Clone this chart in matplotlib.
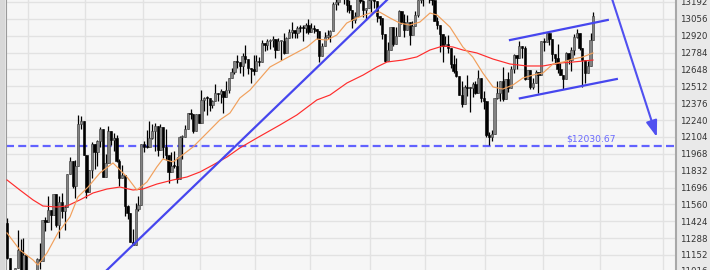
import numpy as np
import pandas as pd
import matplotlib
matplotlib.use("Agg")
from matplotlib import pyplot as plt
from matplotlib.patches import Rectangle

# trading calendar (no weekend gaps on the chart)
first_day = "2011-09-21"
last_day = "2012-07-27"
holidays = ["2011-11-24", "2011-12-26", "2012-01-02", "2012-01-16",
            "2012-02-20", "2012-04-06", "2012-05-28", "2012-07-04", "2012-09-03"]

# daily OHLC, Sep 2011 .. Jul 2012
opens = [
    11408, 11125, 10734, 10771, 11044, 11191, 10939, 11154,
    10913, 10655, 10809, 10940, 11123, 11103, 11433, 11416, 11518, 11478, 11644,
    11397, 11577, 11505, 11542, 11809, 11913, 11707, 11869, 12209, 12231,
    11955, 11658, 11836, 12044, 11983, 12069, 12170, 11781, 11894, 12153, 12079,
    12097, 11906, 11771, 11796, 11548, 11494, 11258, 11231, 11524, 11556,
    12046, 12020, 12019, 12098, 12151, 12196, 11997, 12184, 12021, 11955, 11824,
    11869, 11866, 11766, 12103, 12107, 12169, 12294, 12291, 12151, 12288,
    12218, 12398, 12418, 12416, 12360, 12393, 12462, 12450, 12471, 12422,
    12482, 12578, 12624, 12720, 12709, 12676, 12758, 12735, 12660, 12653,
    12633, 12716, 12705, 12862, 12845, 12878, 12884, 12891, 12801, 12874,
    12878, 12781, 12904, 12950, 12966, 12938, 12985, 12983, 12982, 13005,
    12952, 12980, 12978, 12962, 12759, 12838, 12908, 12922, 12960, 13177, 13194,
    13253, 13233, 13239, 13171, 13125, 13046, 13081, 13241, 13197, 13127, 13146,
    13212, 13264, 13199, 13075, 13060, 12930, 12716, 12806, 12987, 12850,
    12921, 13116, 13033, 12965, 13030, 12928, 13002, 13091, 13205, 13229,
    13214, 13280, 13269, 13207, 13039, 13009, 12933, 12836, 12855, 12821, 12696,
    12633, 12599, 12443, 12370, 12504, 12502, 12497, 12530, 12455, 12580, 12419,
    12393, 12119, 12101, 12127, 12414, 12461, 12554, 12411, 12574, 12497, 12652,
    12767, 12742, 12838, 12825, 12574, 12641, 12503, 12535, 12627, 12602,
    12880, 12871, 12943, 12897, 12773, 12737, 12653, 12605, 12574, 12777,
    12727, 12806, 12909, 12943, 12823, 12722, 12618, 12677, 12888,
]
highs = [
    11452, 11125, 10816, 11045, 11353, 11283, 11290, 11154,
    10952, 10812, 10964, 11130, 11248, 11433, 11462, 11629, 11518, 11644, 11644,
    11625, 11652, 11553, 11809, 11941, 11913, 11920, 12284, 12271, 12231,
    11955, 11838, 12064, 12044, 12076, 12186, 12170, 11964, 12191, 12153, 12133,
    12117, 11924, 11874, 11796, 11558, 11494, 11363, 11569, 11624, 12046,
    12075, 12159, 12233, 12209, 12216, 12196, 12212, 12184, 12164, 11955, 11982,
    11992, 11945, 12112, 12122, 12200, 12294, 12330, 12292, 12288, 12289,
    12479, 12428, 12430, 12416, 12402, 12532, 12462, 12491, 12471, 12558,
    12579, 12661, 12720, 12767, 12709, 12777, 12842, 12735, 12660, 12766,
    12768, 12745, 12886, 12862, 12892, 12891, 12920, 12891, 12905, 12888,
    12945, 12912, 12972, 13028, 12967, 12999, 13010, 13003, 13021, 13058,
    13020, 13006, 12978, 12962, 12862, 12952, 12965, 12963, 13193, 13219, 13256,
    13289, 13265, 13239, 13204, 13125, 13111, 13252, 13290, 13209, 13146, 13228,
    13297, 13264, 13199, 13075, 13060, 12930, 12867, 12987, 12987, 12990,
    13128, 13116, 13098, 13090, 13030, 13039, 13123, 13205, 13260, 13229,
    13338, 13280, 13281, 13207, 13068, 13009, 12933, 12921, 12929, 12821, 12763,
    12738, 12599, 12551, 12520, 12606, 12502, 12546, 12555, 12644, 12580, 12477,
    12393, 12143, 12158, 12414, 12555, 12555, 12665, 12575, 12628, 12674, 12770,
    12767, 12880, 12838, 12839, 12641, 12641, 12582, 12640, 12627, 12880,
    12901, 12943, 12943, 12897, 12773, 12852, 12703, 12605, 12790, 12777,
    12833, 12932, 12972, 12943, 12823, 12722, 12714, 12939, 13115,
]
lows = [
    11122, 10597, 10640, 10722, 11044, 10936, 10939, 10876,
    10654, 10404, 10700, 10932, 11040, 11103, 11347, 11416, 11355, 11478, 11378,
    11288, 11451, 11353, 11542, 11808, 11693, 11613, 11869, 12170, 11955,
    11611, 11658, 11773, 11848, 11873, 12020, 11780, 11781, 11894, 12039, 11989,
    11901, 11705, 11776, 11470, 11444, 11257, 11231, 11231, 11508, 11556,
    11982, 12013, 12019, 12087, 11987, 11952, 11997, 11935, 11919, 11735, 11824,
    11857, 11735, 11766, 11925, 12100, 12169, 12249, 12137, 12151, 12217,
    12218, 12314, 12283, 12311, 12338, 12393, 12390, 12379, 12299, 12422,
    12460, 12578, 12608, 12659, 12621, 12599, 12697, 12611, 12535, 12601,
    12633, 12679, 12705, 12794, 12808, 12814, 12827, 12740, 12801, 12726,
    12772, 12780, 12904, 12903, 12902, 12902, 12948, 12880, 12942, 12935,
    12952, 12942, 12891, 12711, 12759, 12838, 12895, 12870, 12960, 13129, 13169,
    13220, 13179, 13112, 13105, 12986, 13021, 13081, 13187, 13074, 13045, 13146,
    13108, 13145, 13027, 13005, 12896, 12710, 12716, 12806, 12837, 12850,
    12921, 13017, 12908, 12965, 12843, 12928, 13002, 13071, 13181, 13158,
    13214, 13180, 13171, 13035, 12978, 12790, 12710, 12836, 12779, 12656, 12622,
    12587, 12438, 12344, 12370, 12430, 12302, 12423, 12447, 12455, 12387, 12327,
    12107, 12035, 12072, 12127, 12413, 12392, 12397, 12411, 12466, 12497, 12620,
    12653, 12742, 12740, 12566, 12574, 12493, 12487, 12535, 12458, 12602,
    12796, 12871, 12847, 12720, 12694, 12623, 12600, 12492, 12574, 12689,
    12636, 12764, 12902, 12806, 12508, 12539, 12618, 12677, 12888,
]
closes = [
    11125, 10734, 10771, 11044, 11191, 10939, 11154, 10913,
    10655, 10809, 10940, 11123, 11103, 11433, 11416, 11518, 11478, 11644, 11397,
    11577, 11505, 11542, 11809, 11913, 11707, 11869, 12209, 12231, 11955,
    11658, 11836, 12044, 11983, 12069, 12170, 11781, 11894, 12153, 12079, 12097,
    11906, 11771, 11796, 11548, 11494, 11258, 11231, 11524, 11556, 12046,
    12020, 12019, 12098, 12151, 12196, 11997, 12184, 12021, 11955, 11824, 11869,
    11866, 11766, 12103, 12107, 12169, 12294, 12291, 12151, 12288, 12218,
    12398, 12418, 12416, 12360, 12393, 12462, 12450, 12471, 12422, 12482,
    12578, 12624, 12720, 12709, 12676, 12758, 12735, 12660, 12653, 12633,
    12716, 12705, 12862, 12845, 12878, 12884, 12891, 12801, 12874, 12878,
    12781, 12904, 12950, 12966, 12938, 12985, 12983, 12982, 13005, 12952,
    12980, 12978, 12962, 12759, 12838, 12908, 12922, 12960, 13177, 13194, 13253,
    13233, 13239, 13171, 13125, 13046, 13081, 13241, 13197, 13127, 13146, 13212,
    13264, 13199, 13075, 13060, 12930, 12716, 12806, 12987, 12850, 12921,
    13116, 13033, 12965, 13030, 12928, 13002, 13091, 13205, 13229, 13214,
    13280, 13269, 13207, 13039, 13009, 12933, 12836, 12855, 12821, 12696, 12633,
    12599, 12443, 12370, 12504, 12502, 12497, 12530, 12455, 12580, 12419, 12393,
    12119, 12101, 12127, 12414, 12461, 12554, 12411, 12574, 12497, 12652, 12767,
    12742, 12838, 12825, 12574, 12641, 12503, 12535, 12627, 12602, 12880,
    12871, 12943, 12897, 12773, 12737, 12653, 12605, 12574, 12777, 12727,
    12806, 12909, 12943, 12823, 12722, 12618, 12677, 12888, 13076,
]

# moving averages (bar index, level)
ma_fast_idx = [0, 4.7, 9.5, 11.3, 14.6, 18.6, 23, 25.9, 29.6, 33.9, 38.7, 43.8,
               47.4, 51.1, 54.7, 56.9, 60.6, 63.1, 67.9, 73, 77.7, 81.4, 85,
               88.7, 96, 102, 109.5, 113, 116.8, 120.4, 124, 127.7, 132.5, 136,
               139.8, 143.4, 147, 150.7, 154.4, 157, 161.7, 166.4, 170, 173.7,
               177.4, 181, 184.7, 188.3, 192, 195.6, 199.3, 203, 206.6, 210.2, 213.9]
ma_fast = [11330, 11192, 11112, 11071, 11168, 11330, 11459, 11620, 11700, 11813,
           11894, 11781, 11676, 11741, 11862, 11926, 11902, 11942, 12023, 12136,
           12241, 12297, 12418, 12482, 12668, 12740, 12829, 12893, 12885, 12926,
           13022, 13063, 13103, 13111, 13063, 13022, 13006, 13030, 13103, 13087,
           12990, 12829, 12749, 12619, 12507, 12490, 12523, 12579, 12603, 12619,
           12692, 12708, 12732, 12749, 12781]
ma_slow_idx = [0, 4.7, 9.5, 13.1, 18.2, 21.9, 26.6, 31.4, 36.5, 41.2, 46, 49.6,
               54.7, 60.6, 65.7, 70.4, 75.2, 80.3, 85, 91.2, 99.6, 105.8, 113.1,
               117.9, 124.1, 130, 135, 138.7, 144.5, 149.6, 154.4, 159.1, 162.8,
               166.4, 171.5, 177.4, 183.6, 189.8, 195.6, 201.8, 206.6, 213.9]
ma_slow = [11757, 11676, 11596, 11547, 11539, 11547, 11596, 11652, 11684, 11700,
           11676, 11684, 11724, 11757, 11781, 11821, 11878, 11942, 12015, 12095,
           12200, 12281, 12402, 12442, 12539, 12603, 12668, 12708, 12724, 12749,
           12805, 12837, 12829, 12805, 12781, 12732, 12692, 12676, 12676, 12700,
           12708, 12724]

# drawn annotations (bar index, level)
trend_x = [36.5, 138.7]
trend_y = [11031, 13208]
chan_top_x = [183.6, 219.3]
chan_top_y = [12885, 13047]
chan_bot_x = [187.2, 222.6]
chan_bot_y = [12415, 12571]
arrow_from = (220.4, 13248)
arrow_to = (237.2, 12103)
support = 12030.67
y_ticks = [11152, 11288, 11424, 11560, 11696, 11832, 11968, 12104,
           12240, 12376, 12512, 12648, 12784, 12920, 13056, 13192]
cut_tick = 11016

BLUE = "#4646ee"

dates = pd.bdate_range(first_day, last_day, freq="C", holidays=holidays)
assert len(dates) == len(closes) == len(opens) == len(highs) == len(lows)
cal = pd.bdate_range(first_day, "2012-09-28", freq="C", holidays=holidays)
month_lines = [i - 0.5 for i in range(1, len(cal)) if cal[i].month != cal[i - 1].month]

fig = plt.figure(figsize=(7.1, 2.7), dpi=100)
fig.patch.set_facecolor("#e9e9e9")
fig.patches.append(Rectangle((0, 0), 5 / 710, 1, transform=fig.transFigure,
                             facecolor="#d8d8d8", edgecolor="none", zorder=0))
ax = fig.add_axes([6 / 710, 0, 670 / 710, 1])
ax.set_facecolor("#f6f6f6")

x = np.arange(len(closes))
o = np.array(opens)
c = np.array(closes)
up = c >= o

ax.set_xlim(-0.36, 244.2)
ax.set_ylim(11031, 13208)

for m in month_lines:
    ax.axvline(m, color="#e2e2e2", lw=1.0, zorder=0)
for t in y_ticks + [cut_tick]:
    ax.axhline(t, color="#e2e2e2", lw=1.0, zorder=0)

ax.axhline(support, color="#6262ff", lw=1.6, linestyle=(0, (3.6, 1.9)), zorder=1)
ax.text(204, support + 18, r"\$12030.67", color="#6a6aff", fontsize=6.6,
        ha="left", va="bottom", zorder=5)

# candles
ax.vlines(x, lows, highs, color="black", lw=0.9, zorder=2)
body = np.maximum(np.abs(c - o), 8)
bottom = np.minimum(c, o)
ax.bar(x[up], body[up], bottom=bottom[up], width=0.85, color="#828282",
       edgecolor="#3a3a3a", linewidth=0.4, zorder=3)
ax.bar(x[~up], body[~up], bottom=bottom[~up], width=0.85, color="black",
       edgecolor="black", linewidth=0.4, zorder=3)

ax.plot(ma_slow_idx, ma_slow, color="#ff2c2c", lw=0.85, zorder=4)
ax.plot(ma_fast_idx, ma_fast, color="#f1a05c", lw=0.85, zorder=4)

ax.plot(trend_x, trend_y, color=BLUE, lw=1.6, zorder=6)
ax.plot(chan_top_x, chan_top_y, color=BLUE, lw=1.6, zorder=6)
ax.plot(chan_bot_x, chan_bot_y, color=BLUE, lw=1.6, zorder=6)
ax.annotate("", xy=arrow_to, xytext=arrow_from,
            arrowprops=dict(arrowstyle="-|>,head_length=0.7,head_width=0.24",
                            mutation_scale=14, color="#5050f0", lw=1.5,
                            shrinkA=0, shrinkB=0), zorder=6)

ax.yaxis.tick_right()
ax.set_yticks(y_ticks)
ax.set_yticklabels([str(t) for t in y_ticks])
ax.tick_params(axis="y", length=0, pad=3, labelsize=6.2, labelcolor="#333333")
ax.set_xticks([])
# the lowest label sits half below the frame
ax.text(1.0 + 4 / 670, cut_tick, str(cut_tick), transform=ax.get_yaxis_transform(),
        fontsize=6.2, color="#333333", ha="left", va="center", clip_on=False)

for side in ["top", "bottom"]:
    ax.spines[side].set_visible(False)
ax.spines["left"].set_color("#9a9a9a")
ax.spines["right"].set_color("#a8a8a8")
ax.spines["right"].set_linewidth(1.5)

fig.savefig("out.png", dpi=100)
